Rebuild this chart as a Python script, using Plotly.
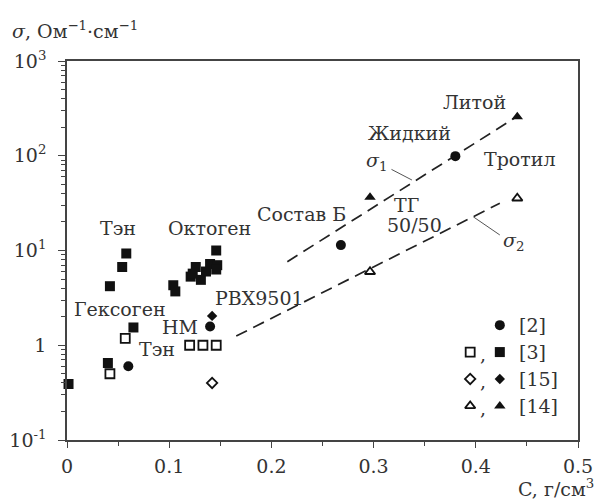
import plotly.graph_objects as go

# ---------------- data ----------------
ref2_x = [0.060, 0.140, 0.268, 0.380]
ref2_y = [0.60, 1.58, 11.4, 99.0]

ref3_open_x = [0.042, 0.057, 0.120, 0.133, 0.146]
ref3_open_y = [0.50, 1.18, 1.0, 1.0, 1.0]

ref3_fill_x = [0.0015, 0.040, 0.065, 0.042, 0.054, 0.058,
               0.104, 0.106, 0.121, 0.123, 0.126, 0.131, 0.136, 0.140, 0.147, 0.146, 0.146]
ref3_fill_y = [0.39, 0.65, 1.54, 4.2, 6.7, 9.3,
               4.3, 3.7, 5.3, 5.7, 6.7, 4.9, 6.0, 7.2, 7.0, 6.3, 10.0]

ref15_open_x = [0.142]
ref15_open_y = [0.40]
ref15_fill_x = [0.142]
ref15_fill_y = [2.04]

ref14_open_x = [0.2965, 0.4406]
ref14_open_y = [5.97, 35.6]
ref14_fill_x = [0.2965, 0.4406]
ref14_fill_y = [36.4, 258.0]

sigma1_x = [0.2156, 0.440]
sigma1_y = [7.62, 258.0]
sigma2_x = [0.1656, 0.4235]
sigma2_y = [1.25, 31.5]

x_ticks = [0, 0.1, 0.2, 0.3, 0.4, 0.5]
x_ticktext = ["0", "0.1", "0.2", "0.3", "0.4", "0.5"]
y_ticks = [0.1, 1, 10, 100, 1000]
y_ticktext = ["10<sup>-1</sup>", "1", "10<sup>1</sup>", "10<sup>2</sup>", "10<sup>3</sup>"]

legend_refs = ["[2]", "[3]", "[15]", "[14]"]

# ---------------- style ----------------
FONT = "DejaVu Serif"
TXT = "#333333"
INK = "#111111"
FS = 19

fig = go.Figure()

def add(x, y, symbol, size, filled, **kw):
    fig.add_trace(go.Scatter(
        x=x, y=y, mode="markers", cliponaxis=False, showlegend=False,
        marker=dict(symbol=symbol, size=size,
                    color=INK if filled else "white",
                    line=dict(color=INK, width=0 if filled else 1.8)), **kw))

# dashed fit lines
for lx, ly in [(sigma1_x, sigma1_y), (sigma2_x, sigma2_y)]:
    fig.add_trace(go.Scatter(x=lx, y=ly, mode="lines", showlegend=False,
                             line=dict(color="#222222", width=1.7, dash="12px,7px")))

add(ref3_fill_x, ref3_fill_y, "square", 10, True)
add(ref3_open_x, ref3_open_y, "square", 9, False)
add(ref2_x, ref2_y, "circle", 10, True)
add(ref15_open_x, ref15_open_y, "diamond", 8, False)
add(ref15_fill_x, ref15_fill_y, "diamond", 8, True)
add(ref14_open_x, ref14_open_y, "triangle-up", 9, False)
add(ref14_fill_x, ref14_fill_y, "triangle-up", 10, True)

# legend glyphs on an overlay axis (0..1)
leg_rows = [0.303, 0.232, 0.161, 0.090]
x_open, x_fill, x_comma, x_text = 0.789, 0.847, 0.814, 0.880
leg_open = [None, ("square", 9), ("diamond", 8), ("triangle-up", 9)]
leg_fill = [("circle", 10), ("square", 10), ("diamond", 8), ("triangle-up", 10)]
for i, yy in enumerate(leg_rows):
    if leg_open[i]:
        add([x_open], [yy], leg_open[i][0], leg_open[i][1], False, xaxis="x2", yaxis="y2")
        fig.add_annotation(x=x_comma, y=yy, xref="x2", yref="y2", text=",",
                           yanchor="middle", yshift=-2, showarrow=False,
                           font=dict(family=FONT, size=FS, color=TXT))
    add([x_fill], [yy], leg_fill[i][0], leg_fill[i][1], True, xaxis="x2", yaxis="y2")
    fig.add_annotation(x=x_text, y=yy, xref="x2", yref="y2", text=legend_refs[i],
                       xanchor="left", showarrow=False,
                       font=dict(family=FONT, size=FS, color=TXT))

# text labels (x data, y in log10)
labels = [
    ("Тэн", 0.0499, 1.2375), ("Октоген", 0.139, 1.2375), ("Состав Б", 0.2297, 1.382),
    ("Жидкий", 0.3356, 2.243), ("Литой", 0.3992, 2.570), ("Тротил", 0.4432, 1.9625),
    ("<i>σ</i><sub>1</sub>", 0.303, 1.937), ("ТГ", 0.3317, 1.48), ("50/50", 0.3405, 1.269),
    ("<i>σ</i><sub>2</sub>", 0.4367, 1.093), ("Гексоген", 0.0519, 0.379),
    ("НМ", 0.1106, 0.189), ("PBX9501", 0.1884, 0.4955), ("Тэн", 0.0878, -0.043),
]
for t, lx, ly in labels:
    fig.add_annotation(x=lx, y=ly, text=t, showarrow=False,
                       font=dict(family=FONT, size=FS, color=TXT))

# leader lines for sigma labels
for x0, y0, x1, y1 in [(0.635, 0.714, 0.675, 0.686), (0.795, 0.589, 0.847, 0.541)]:
    fig.add_shape(type="line", xref="paper", yref="paper", x0=x0, y0=y0, x1=x1, y1=y1,
                  line=dict(color="#555555", width=1))

# axis titles
fig.add_annotation(xref="paper", yref="paper", x=-0.112, y=1.083, xanchor="left",
                   yanchor="middle", showarrow=False,
                   text="<i>σ</i>, Ом<sup>−1</sup>·см<sup>−1</sup>",
                   font=dict(family=FONT, size=FS, color=TXT))
fig.add_annotation(xref="paper", yref="paper", x=1.036, y=-0.126, xanchor="right",
                   yanchor="middle", showarrow=False,
                   text="C, г/см<sup>3</sup>",
                   font=dict(family=FONT, size=FS, color=TXT))

minor_y = [m * 10 ** d for d in range(-1, 3) for m in range(2, 10)]

fig.update_layout(
    width=597, height=494,
    margin=dict(l=59, r=27, t=53, b=62),
    paper_bgcolor="white", plot_bgcolor="white",
    font=dict(family=FONT, size=FS, color=TXT),
    xaxis=dict(range=[0, 0.5], tickmode="array", tickvals=x_ticks, ticktext=x_ticktext,
               showgrid=False, zeroline=False, showline=True, mirror=True,
               linecolor="#444444", linewidth=1.5,
               ticks="outside", ticklen=6, tickwidth=1.3, tickcolor="#444444",
               ticklabelstandoff=2, automargin=False,
               minor=dict(tickmode="array", tickvals=[0.05, 0.15, 0.25, 0.35, 0.45],
                          ticks="outside", ticklen=4, tickcolor="#444444", showgrid=False)),
    yaxis=dict(type="log", range=[-1, 3], tickmode="array", tickvals=y_ticks,
               ticktext=y_ticktext, showgrid=False, zeroline=False, showline=True,
               mirror=True, linecolor="#444444", linewidth=1.5,
               ticks="outside", ticklen=7, tickwidth=1.3, tickcolor="#444444",
               ticklabelstandoff=8, automargin=False,
               minor=dict(tickmode="array", tickvals=minor_y, ticks="outside",
                          ticklen=4, tickcolor="#444444", showgrid=False)),
    xaxis2=dict(overlaying="x", range=[0, 1], visible=False),
    yaxis2=dict(overlaying="y", range=[0, 1], visible=False),
)

fig.write_html("out.html")
